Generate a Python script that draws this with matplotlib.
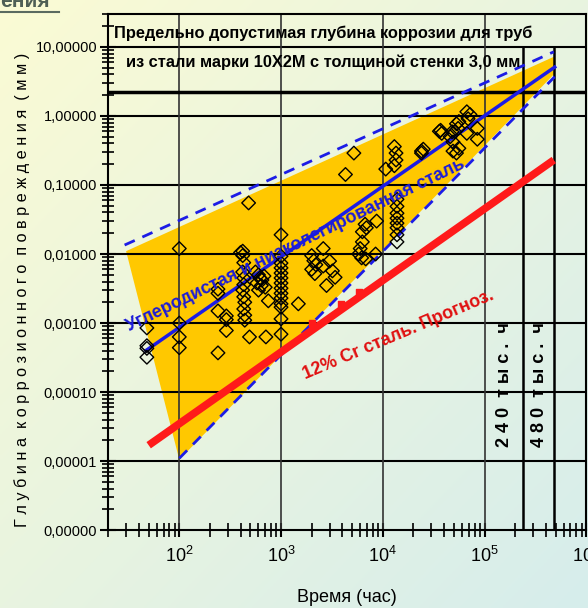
import numpy as np
import matplotlib.pyplot as plt
from matplotlib.ticker import FixedLocator, LogLocator, NullFormatter, FuncFormatter

plt.rcParams['font.family'] = ['Liberation Sans', 'DejaVu Sans']
plt.rcParams['mathtext.fontset'] = 'custom'
plt.rcParams['mathtext.rm'] = 'Liberation Sans'

# --- data ---
hours = [48, 48, 48, 48,
         100, 100, 100, 100,
         240, 240, 240, 240, 290, 290, 290,
         480,
         420, 420, 400, 430, 420, 430, 430, 420, 430, 440, 430, 440, 440,
         490, 710,
         1000, 1000, 1000, 1000, 1000, 1000, 1000, 1000, 1000, 1000, 1000, 1000, 1000, 1000,
         560, 600, 620, 650, 580, 640, 700, 600, 680,
         750, 1480,
         2000, 2100, 2200, 2000, 2150,
         2600, 3000, 2600, 3200, 3400, 2800,
         5200, 4300,
         13000, 13500, 13500, 13000, 10700, 24000,
         13800, 13800, 13800, 13800, 13800, 13800, 13800, 13800,
         8700, 6700, 6900, 6300, 6300, 6000, 5800, 6200, 6800, 8500,
         67000, 72000, 69000, 37000, 38000, 36000,
         56000, 53000, 55000, 51000, 48000, 46000, 49000, 49000, 56000, 67000,
         85000, 85000, 53000, 25000, 24000]
depth = [0.00085, 0.00047, 0.00043, 0.00032,
         0.012, 0.001, 0.00063, 0.00044,
         0.0031, 0.0027, 0.0015, 0.00037, 0.00127, 0.00112, 0.00078,
         0.055,
         0.011, 0.0095, 0.0105, 0.0075, 0.0055, 0.0045, 0.0036, 0.003, 0.0024, 0.002, 0.0016, 0.0013, 0.0011,
         0.00063, 0.00063,
         0.019, 0.0093, 0.0074, 0.0063, 0.0053, 0.0045, 0.0038, 0.0032, 0.0027, 0.0023, 0.0019, 0.0017, 0.00115, 0.00069,
         0.0055, 0.005, 0.0045, 0.0042, 0.0038, 0.0035, 0.0033, 0.003, 0.0048,
         0.0021, 0.0019,
         0.0095, 0.008, 0.007, 0.006, 0.0052,
         0.012, 0.0079, 0.0067, 0.0057, 0.0046, 0.0035,
         0.29, 0.142,
         0.36, 0.29, 0.23, 0.19, 0.17, 0.31,
         0.062, 0.049, 0.039, 0.033, 0.028, 0.024, 0.019, 0.015,
         0.03, 0.027, 0.024, 0.021, 0.015, 0.012, 0.01, 0.0088, 0.0085, 0.01,
         1.15, 1.05, 0.91, 0.62, 0.56, 0.6,
         0.83, 0.77, 0.66, 0.59, 0.59, 0.5, 0.42, 0.31, 0.34, 0.56,
         0.66, 0.46, 0.29, 0.33, 0.29]

# scatter band (yellow) corners
band_x = [30, 4.8e5, 4.8e5, 100]
band_y = [0.011, 7.2, 4.0, 1.05e-5]

# carbon steel trend and its bounds
trend_x = [47, 4.9e5]
trend_y = [0.0004, 5.1]
upper_x = [29, 4.8e5]
upper_y = [0.0135, 8.5]
lower_x = [100, 4.9e5]
lower_y = [1.1e-5, 3.7]

# 12% Cr forecast
cr_x = [50, 4.8e5]
cr_y = [1.7e-5, 0.23]
cr_pts_x = [2000, 3900, 5800]
cr_pts_y = [0.001, 0.0019, 0.0028]

limit_depth = 2.2
life_hours = [2.4e5, 4.8e5]
life_labels = ['2 4 0  т ы с .  ч', '4 8 0  т ы с .  ч']

yticks = [1e-6, 1e-5, 1e-4, 1e-3, 1e-2, 1e-1, 1, 10]
xticks = [1e2, 1e3, 1e4, 1e5, 1e6]

fig = plt.figure(figsize=(5.88, 6.08), dpi=100)

# background gradient
bg = fig.add_axes([0, 0, 1, 1], zorder=-5)
gx, gy = np.meshgrid(np.linspace(0, 1, 200), np.linspace(0, 1, 200))
t = np.clip((gx + gy) / 2, 0, 1)[..., None]
c0 = np.array([251, 251, 212]) / 255
c1 = np.array([214, 237, 236]) / 255
bg.imshow(c0 * (1 - t) + c1 * t, aspect='auto', extent=[0, 1, 0, 1], origin='upper')
bg.axis('off')

ax = fig.add_axes([0.184, 0.128, 0.813, 0.849])
ax.set_facecolor('none')
ax.set_xscale('log')
ax.set_yscale('log')
ax.set_xlim(20, 1e6)
ax.set_ylim(1e-6, 30)

ax.fill(band_x, band_y, color='#ffc800', lw=0, zorder=1)
ax.plot(upper_x, upper_y, color='#1c1ce6', lw=2, ls=(0, (4, 3)), zorder=3)
ax.plot(lower_x, lower_y, color='#1c1ce6', lw=2, ls=(0, (4, 3)), zorder=3)
ax.plot(trend_x, trend_y, color='#1c1ce6', lw=2.5, zorder=4)
ax.scatter(hours, depth, marker='D', s=48, facecolors='none', edgecolors='black',
           linewidths=1, zorder=5)
ax.plot(cr_x, cr_y, color='#ff1a1a', lw=5.5, solid_capstyle='butt', zorder=6)
ax.scatter(cr_pts_x, cr_pts_y, marker='s', s=14, color='#ff1a1a', zorder=6)

# grid
for v in yticks[1:]:
    ax.axhline(v, color='black', lw=1.5, zorder=2)
for v in xticks[:-1]:
    ax.axvline(v, color='#333333', lw=1.2, zorder=2)
ax.axhline(limit_depth, color='black', lw=2.5, zorder=2)
for v in life_hours:
    ax.plot([v, v], [1e-6, 10], color='black', lw=1.8, zorder=2)

# ticks
ax.yaxis.set_major_locator(FixedLocator(yticks))
ax.yaxis.set_minor_locator(LogLocator(base=10, subs=np.arange(2, 10), numticks=20))
ax.yaxis.set_minor_formatter(NullFormatter())
ax.yaxis.set_major_formatter(FuncFormatter(lambda v, p: f'{v:.5f}'.replace('.', ',')))
ax.xaxis.set_major_locator(FixedLocator(xticks))
ax.xaxis.set_minor_locator(LogLocator(base=10, subs=np.arange(2, 10), numticks=20))
ax.xaxis.set_minor_formatter(NullFormatter())
ax.xaxis.set_major_formatter(FuncFormatter(lambda v, p: r'$10^{%d}$' % round(np.log10(v))))
ax.tick_params(axis='y', which='major', direction='inout', length=12, width=1.5,
               labelsize=10.5, pad=2)
ax.tick_params(axis='y', which='minor', direction='inout', length=8, width=1.2)
ax.tick_params(axis='x', which='major', direction='inout', length=10, width=1.5,
               labelsize=13, pad=6)
ax.tick_params(axis='x', which='minor', direction='inout', length=10, width=1.2)
for s in ax.spines.values():
    s.set_linewidth(1.5)

# texts
ax.text(0.45, 0.963, 'Предельно допустимая глубина коррозии для труб', transform=ax.transAxes,
        ha='center', va='center', fontsize=11.8, fontweight='bold', zorder=7)
ax.text(0.45, 0.907, 'из стали марки 10Х2М с толщиной стенки 3,0 мм', transform=ax.transAxes,
        ha='center', va='center', fontsize=11.8, fontweight='bold', zorder=7)
ax.text(0.391, 0.552, 'Углеродистая и низколегированная сталь', transform=ax.transAxes,
        ha='center', va='center', rotation=26, fontsize=13, fontweight='bold',
        color='#1c1cd8', zorder=7)
ax.text(0.607, 0.378, '12% Cr сталь. Прогноз.', transform=ax.transAxes,
        ha='center', va='center', rotation=23, fontsize=13, fontweight='bold',
        color='#e01010', zorder=7)
for xv, lab in zip([0.83, 0.903], life_labels):
    ax.text(xv, 0.161, lab, transform=ax.transAxes, ha='center', va='bottom',
            rotation=90, fontsize=13, fontweight='bold', zorder=7)

fig.text(0.037, 0.523, 'Г л у б и н а  к о р р о з и о н н о г о  п о в р е ж д е н и я  ( м м )',
         rotation=90, ha='center', va='center', fontsize=11.7)
fig.text(0.590, 0.018, 'Время (час)', ha='center', va='center', fontsize=13)

# cut-off heading in the corner
fig.text(0.0, 0.988, 'ения', ha='left', va='baseline', fontsize=15, fontweight='bold',
         color='#4f5f55')
fig.add_artist(plt.Line2D([0, 0.1], [0.981, 0.981], color='#5a6a60', lw=1.5))

fig.savefig('out.png', dpi=100)
